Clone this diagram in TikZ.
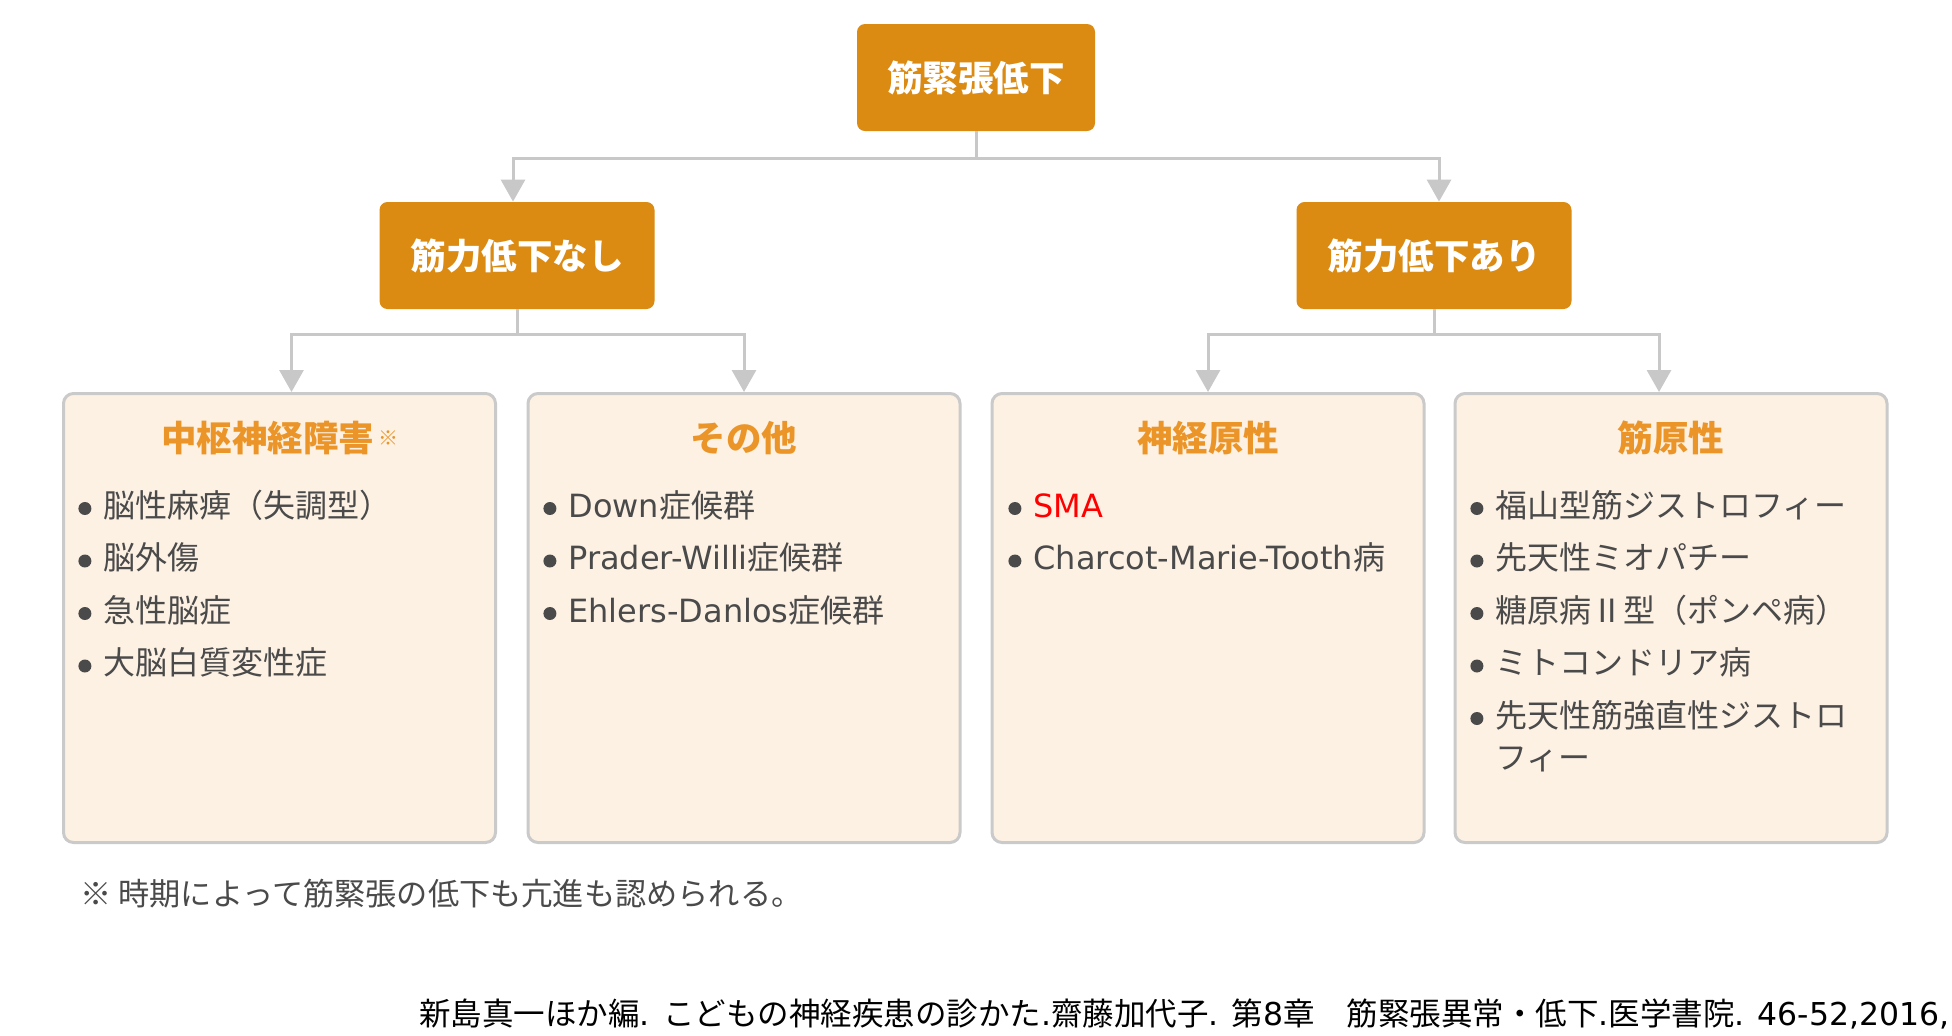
\documentclass[tikz,border=0pt]{standalone}
\usepackage{fontspec}
\setmainfont{Noto Sans CJK JP}
\newfontfamily\lat{DejaVu Sans}
\usetikzlibrary{positioning,arrows.meta}

\definecolor{boxorange}{HTML}{DB8A12}
\definecolor{titleorange}{HTML}{EB9529}
\definecolor{paper}{HTML}{FDF1E4}
\definecolor{edgegray}{HTML}{CACACA}
\definecolor{linegray}{HTML}{C8C8C8}
\definecolor{itemgray}{HTML}{4A4A4A}
\definecolor{smared}{HTML}{FF0000}

\newcommand{\bul}{\makebox[12.5pt][l]{\raisebox{1pt}{\tikz\fill[itemgray] (0,0) circle (3.25pt);}}}

\begin{document}
\begin{tikzpicture}[%
        x=0.5pt, y=-0.5pt,
        headbox/.style={%
          rectangle,
          rounded corners=4pt,
          fill=boxorange,
          text=white,
          minimum height=53.5pt,
          inner sep=0pt,
          font=\fontsize{17.75}{20}\selectfont\bfseries
        },
        catbox/.style={%
          rectangle,
          rounded corners=5pt,
          draw=edgegray, line width=1.5pt,
          fill=paper,
          minimum width=216pt,
          minimum height=224.5pt
        },
        cattitle/.style={inner sep=0pt, text=titleorange, font=\fontsize{17.75}{20}\selectfont\bfseries},
        itemtext/.style={anchor=base west, inner sep=0pt, text=itemgray, font=\fontsize{16}{16}\selectfont},
        arrowline/.style={draw=linegray, line width=1.5pt, -{Triangle[width=12pt,length=11pt]}}
      ]
      \path[use as bounding box, fill=white] (0,0) rectangle (1952,1035);

      % top levels
      \node[headbox, minimum width=119pt] (root) at (976,77.5) {筋緊張低下};
      \node[headbox, minimum width=137.5pt] (noweak) at (517,255.5) {筋力低下なし};
      \node[headbox, minimum width=137.5pt] (weak) at (1434,255.5) {筋力低下あり};

      % groups
      \node[catbox] (cns) at (279.5,618) {};
      \node[catbox] (other) at (744,618) {};
      \node[catbox] (neuro) at (1208,618) {};
      \node[catbox] (myo) at (1671,618) {};

      \node[cattitle] (cns-t) at ([yshift=-23pt]cns.north) {中枢神経障害\hspace{2pt}{\mdseries\fontsize{10}{10}\selectfont\raisebox{3pt}{※}}};
      \node[cattitle] (other-t) at ([yshift=-23pt]other.north) {その他};
      \node[cattitle] (neuro-t) at ([yshift=-23pt]neuro.north) {神経原性};
      \node[cattitle] (myo-t) at ([yshift=-23pt]myo.north) {筋原性};

      \foreach \txt [count=\i from 0] in {脳性麻痺（失調型）,脳外傷,急性脳症,大脳白質変性症}
        \node[itemtext] (cns-\i) at (78,{517+52.5*\i}) {\bul\txt};
      \foreach \txt [count=\i from 0] in {{{\lat Down}症候群},{{\lat Prader-Willi}症候群},{{\lat Ehlers-Danlos}症候群}}
        \node[itemtext] (other-\i) at (543,{517+52.5*\i}) {\bul\txt};
      \foreach \txt [count=\i from 0] in {{{\color{smared}\lat SMA}},{{\lat Charcot-Marie-Tooth}病}}
        \node[itemtext] (neuro-\i) at (1008,{517+52.5*\i}) {\bul\txt};
      \foreach \txt [count=\i from 0] in {福山型筋ジストロフィー,先天性ミオパチー,糖原病Ⅱ型（ポンペ病）,ミトコンドリア病,先天性筋強直性ジストロ}
        \node[itemtext] (myo-\i) at (1470,{517+52.5*\i}) {\bul\txt};
      \node[itemtext] (myo-4b) at (1495,769) {フィー};

      % connectors
      \draw[arrowline] (root.south) -- ++(0,27) -| ([xshift=-2pt]noweak.north);
      \draw[arrowline] (root.south) -- ++(0,27) -| ([xshift=2.5pt]weak.north);
      \draw[arrowline] (noweak.south) -- ++(0,25) -| ([xshift=6pt]cns.north);
      \draw[arrowline] (noweak.south) -- ++(0,25) -| (other.north);
      \draw[arrowline] (weak.south) -- ++(0,25) -| (neuro.north);
      \draw[arrowline] (weak.south) -- ++(0,25) -| ([xshift=-6pt]myo.north);

      % notes
      \node[anchor=base west, inner sep=0pt, text=itemgray, font=\fontsize{15.6}{16}\selectfont] (note) at (80,905) {※ 時期によって筋緊張の低下も亢進も認められる。};
      \node[anchor=base east, inner sep=0pt, text=black, font=\fontsize{15.75}{16}\selectfont] (cite) at (1950,1025) {新島真一ほか編{\lat . }こどもの神経疾患の診かた{\lat .}齋藤加代子{\lat . }第{\lat 8}章　筋緊張異常・低下{\lat .}医学書院{\lat . 46-52,2016,}};
    \end{tikzpicture}
\end{document}
